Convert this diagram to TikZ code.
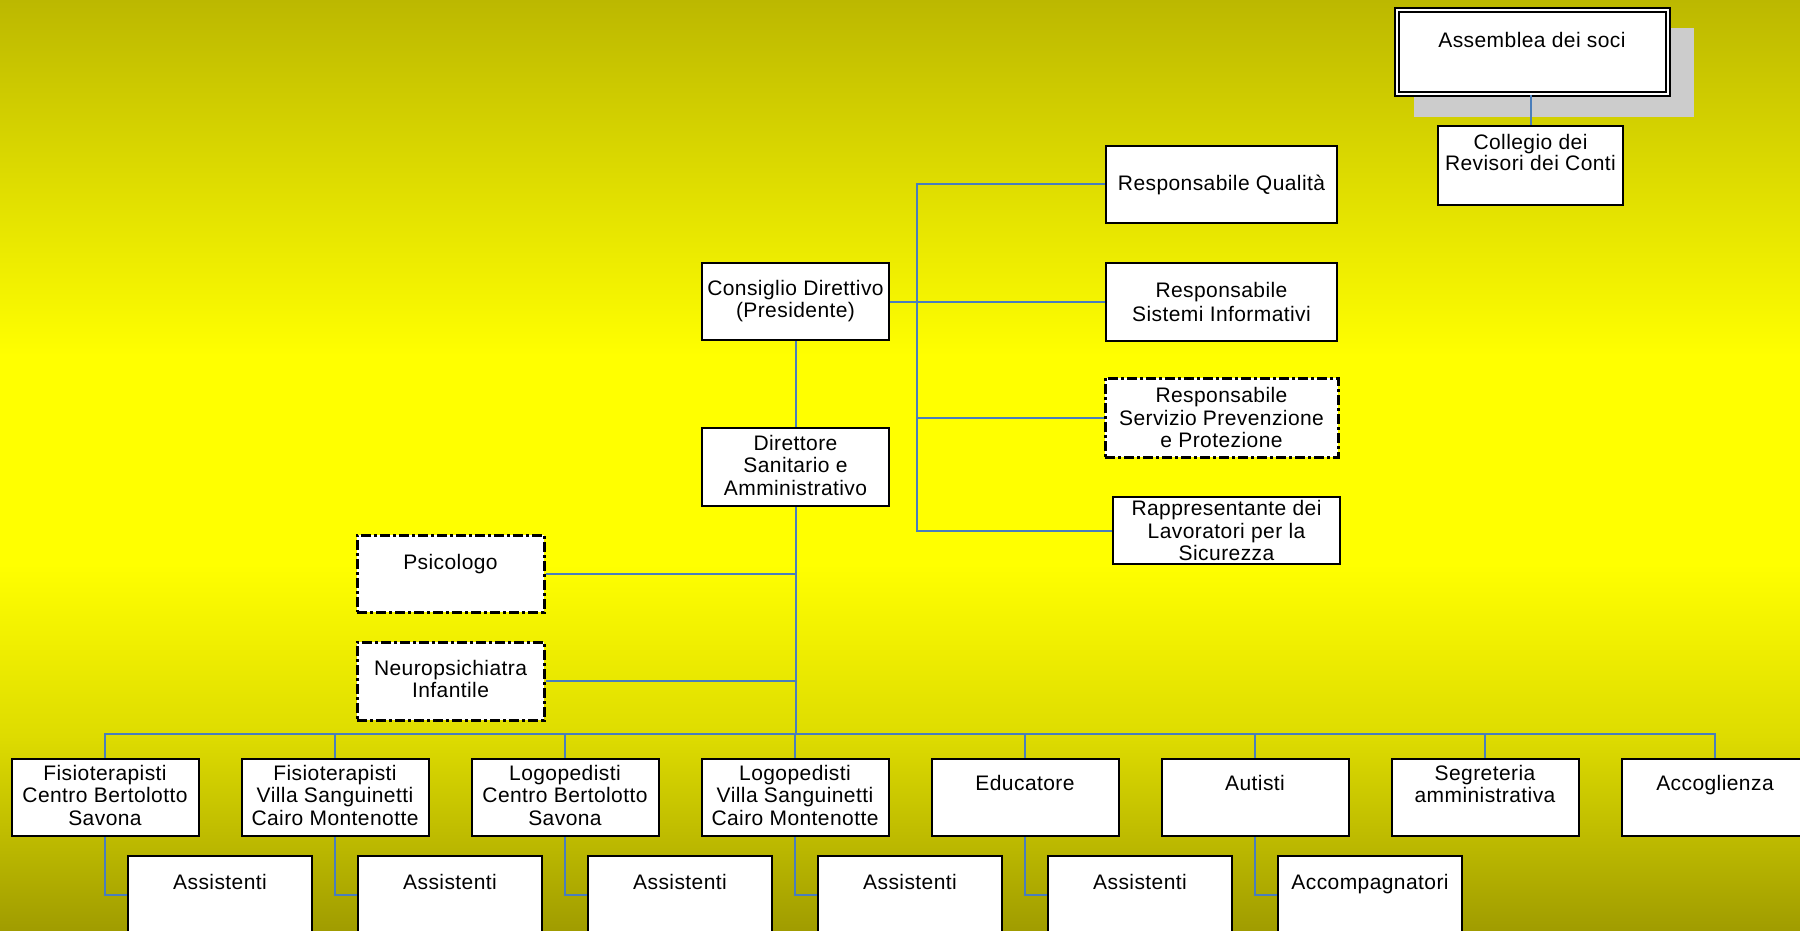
\documentclass[tikz,border=0pt]{standalone}
\usepackage{fontspec}
\setmainfont[LetterSpace=2]{Liberation Sans}
\definecolor{topc}{RGB}{188,184,0}
\definecolor{yel}{RGB}{255,255,0}
\definecolor{busc}{RGB}{222,220,0}
\definecolor{botc}{RGB}{160,156,0}
\definecolor{conc}{RGB}{74,126,187}
\definecolor{shadowc}{RGB}{204,204,204}
\pgfdeclareverticalshading{bgshade}{100bp}{color(0bp)=(botc); color(25bp)=(botc); color(35.5bp)=(busc); color(44.7bp)=(yel); color(55.9bp)=(yel); color(75bp)=(topc); color(100bp)=(topc)}
\newdimen\pxu \pxu=0.5pt
\newcommand{\fnt}{\fontsize{10.5pt}{11.25pt}\selectfont}
% top-aligned text: width, height, first baseline, text
\newcommand{\bt}[4]{\parbox[c][#2\pxu][t]{#1\pxu}{\centering\rule{0pt}{#3\pxu}#4\par}}
% vertically centred text: width, height, text
\newcommand{\ct}[3]{\parbox[c][#2\pxu][c]{#1\pxu}{\centering #3\par}}
\begin{document}
\begin{tikzpicture}[x=0.5pt,y=-0.5pt,
  ob/.style={draw=black, line width=1pt, fill=white, inner sep=0pt, font=\fnt},
  dd/.style={ob, line width=1.5pt, dash pattern=on 5pt off 1.5pt on 1.5pt off 1.5pt},
  dbl/.style={ob, line width=1pt, double=white, double distance=1pt},
  cn/.style={draw=conc, line width=1pt}]
\useasboundingbox (0,0) rectangle (1800,931);
\shade[shading=bgshade] (0,0) rectangle (1800,931);

% top right
\fill[shadowc] (1414,28) rectangle (1694,117);
\node[dbl] (asm) at (1532,52.5) {\bt{271}{84}{37}{Assemblea dei soci}};
\node[ob] (col) at (1530.5,165.5) {\bt{185}{79}{24}{Collegio dei\\[-1.2pt]Revisori dei Conti}};

% staff on the right
\node[ob] (rq) at (1221.5,184.5) {\ct{231}{77}{Responsabile Qualità}};
\node[ob] (rsi) at (1221.5,302) {\ct{231}{78}{Responsabile\\[1pt]Sistemi Informativi}};
\node[dd] (rspp) at (1221.5,417.5) {\ct{233}{79}{Responsabile\\Servizio Prevenzione\\e Protezione}};
\node[ob] (rls) at (1226.5,530.5) {\ct{227}{67}{Rappresentante dei\\Lavoratori per la\\Sicurezza}};

% central column
\node[ob] (cd) at (795.5,301.5) {\bt{187}{77}{32}{Consiglio Direttivo\\(Presidente)}};
\node[ob] (dir) at (795.5,467) {\bt{187}{78}{22}{Direttore\\Sanitario e\\Amministrativo}};
\node[dd] (psi) at (450.5,573.5) {\bt{187}{77}{34}{Psicologo}};
\node[dd] (neu) at (450.5,681) {\bt{187}{78}{33}{Neuropsichiatra\\Infantile}};

% bottom row
\node[ob] (b1) at (105,797.5) {\bt{187}{77}{21}{Fisioterapisti\\Centro Bertolotto\\Savona}};
\node[ob] (b2) at (335,797.5) {\bt{187}{77}{21}{Fisioterapisti\\Villa Sanguinetti\\Cairo Montenotte}};
\node[ob] (b3) at (565,797.5) {\bt{187}{77}{21}{Logopedisti\\Centro Bertolotto\\Savona}};
\node[ob] (b4) at (795,797.5) {\bt{187}{77}{21}{Logopedisti\\Villa Sanguinetti\\Cairo Montenotte}};
\node[ob] (b5) at (1025,797.5) {\bt{187}{77}{31}{Educatore}};
\node[ob] (b6) at (1255,797.5) {\bt{187}{77}{31}{Autisti}};
\node[ob] (b7) at (1485,797.5) {\bt{187}{77}{21}{Segreteria\\amministrativa}};
\node[ob] (b8) at (1715,797.5) {\bt{187}{77}{31}{Accoglienza}};

\node[ob] (a1) at (220,894.5) {\bt{184}{77}{33}{Assistenti}};
\node[ob] (a2) at (450,894.5) {\bt{184}{77}{33}{Assistenti}};
\node[ob] (a3) at (680,894.5) {\bt{184}{77}{33}{Assistenti}};
\node[ob] (a4) at (910,894.5) {\bt{184}{77}{33}{Assistenti}};
\node[ob] (a5) at (1140,894.5) {\bt{184}{77}{33}{Assistenti}};
\node[ob] (a6) at (1370,894.5) {\bt{184}{77}{33}{Accompagnatori}};

% connectors
\coordinate (sp) at (917,0);
\coordinate (busy) at (0,734);
\draw[cn] (asm.south -| col.north) -- (col.north);
\draw[cn] (rq.west) -- (rq.west -| sp) -- (rls.west -| sp) -- (rls.west);
\draw[cn] (rsi.west) -- (rsi.west -| sp);
\draw[cn] (rspp.west) -- (rspp.west -| sp);
\draw[cn] (cd.east) -- (cd.east -| sp);
\draw[cn] (cd.south) -- (cd.south |- dir.north);
\draw[cn] (dir.south) -- (dir.south |- busy);
\draw[cn] (psi.east) -- (psi.east -| dir.south);
\draw[cn] (neu.east) -- (neu.east -| dir.south);
\draw[cn] (b1.north) -- (b1.north |- busy) -- (b8.north |- busy) -- (b8.north);
\foreach \n in {b2,b3,b4,b5,b6,b7} \draw[cn] (\n.north) -- (\n.north |- busy);
\foreach \b/\a in {b1/a1,b2/a2,b3/a3,b4/a4,b5/a5,b6/a6} \draw[cn] (\b.south) |- (\a.west);
\end{tikzpicture}
\end{document}
